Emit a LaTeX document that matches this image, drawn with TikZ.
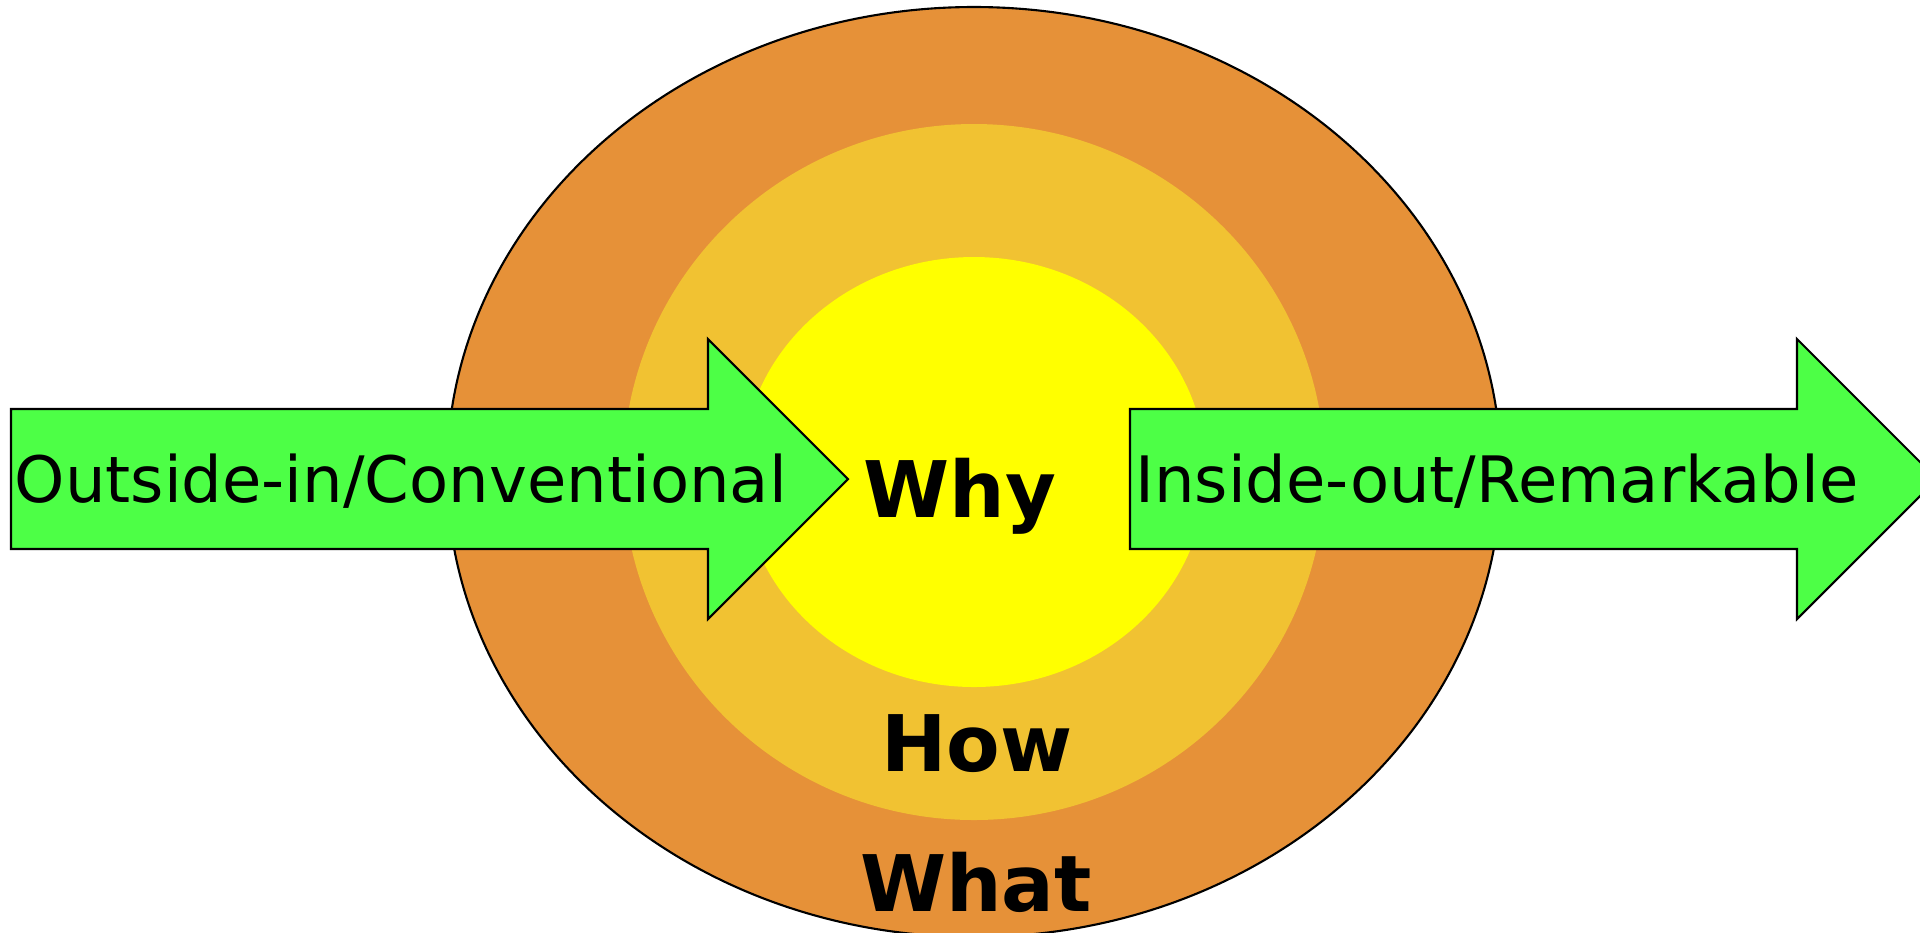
\documentclass[tikz,border=0pt]{standalone}
\usepackage{fontspec}
\setmainfont{DejaVu Sans}
\usepackage{xcolor}
\definecolor{whatorange}{RGB}{230,145,56}
\definecolor{howyellow}{RGB}{241,194,50}
\definecolor{whyyellow}{RGB}{255,255,0}
\definecolor{arrowgreen}{RGB}{77,255,70}

\tikzset{
  ring/.style={line width=0.6pt},
  bigarrow/.style={line width=0.6pt, fill=arrowgreen, line join=miter},
  arrowtext/.style={inner sep=0pt, font=\fontsize{18.2pt}{20pt}\selectfont},
  circletext/.style={inner sep=0pt, font=\fontsize{22.2pt}{24pt}\selectfont\bfseries}
}

\begin{document}
\begin{tikzpicture}[x=0.01cm, y=-0.01cm]
  \useasboundingbox (0,0) rectangle (1920,932);
  \clip (0,0) rectangle (1920,932);
  % the three circles
  \filldraw[ring, fill=whatorange] (974,472) ellipse [x radius=527, y radius=465];
  \fill[howyellow] (974,472) ellipse [x radius=351, y radius=348];
  \fill[whyyellow] (974,472) ellipse [x radius=232, y radius=215];
  % arrows
  \filldraw[bigarrow] (11,409) -- (708,409) -- (708,339) -- (848,479) -- (708,619) -- (708,549) -- (11,549) -- cycle;
  \filldraw[bigarrow] (1130,409) -- (1797,409) -- (1797,339) -- (1937,479) -- (1797,619) -- (1797,549) -- (1130,549) -- cycle;
  \node[arrowtext, anchor=base west] (outsidein) at (14,502) {Outside-in/Conventional};
  \node[arrowtext, anchor=base east] (insideout) at (1859,502) {Inside-out/Remarkable};
  % labels
  \node[circletext, anchor=base west] (why) at (863,517) {Why};
  \node[circletext, anchor=base] (how) at (977,771) {How};
  \node[circletext, anchor=base] (what) at (976,911) {What};
\end{tikzpicture}
\end{document}
